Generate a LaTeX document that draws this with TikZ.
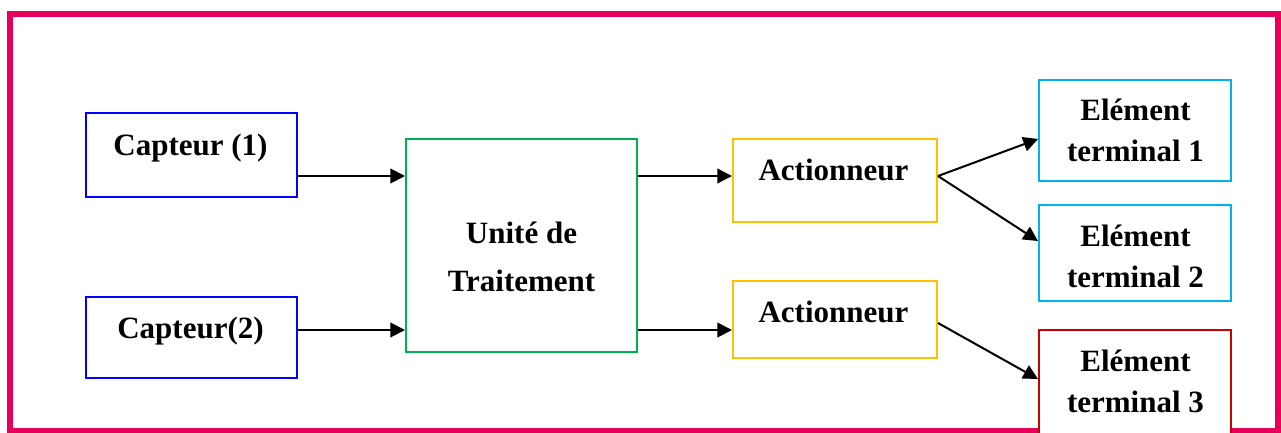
\documentclass[tikz,border=0pt]{standalone}
\usepackage{fontspec}
\setmainfont{Liberation Serif}
\usetikzlibrary{arrows.meta}
\definecolor{bordpink}{RGB}{230,0,92}
\definecolor{cbblue}{RGB}{0,0,255}
\definecolor{utgreen}{RGB}{0,176,80}
\definecolor{acgold}{RGB}{255,192,0}
\definecolor{etcyan}{RGB}{0,176,240}
\definecolor{etred}{RGB}{200,0,0}
\tikzset{
  box/.style={draw=#1, rectangle, line width=1.5pt, fill=white, inner sep=0pt},
  lbl/.style={anchor=base, align=center, inner sep=0pt, font=\fontsize{23.25}{30.5}\selectfont\bfseries},
  arr/.style={line width=1.5pt, -{Triangle[length=11pt,width=11pt]}}
}
\begin{document}
\begin{tikzpicture}[x=0.75pt,y=-0.75pt]
\useasboundingbox (0,0) rectangle (1281,432);
\begin{scope}
\clip (0,0) rectangle (1281,432);
\draw[bordpink, line width=4.5pt] (10,13.5) rectangle (1277.5,431);
% boxes
\node[box=cbblue, minimum width=158.25pt, minimum height=63pt] (c1) at (191.5,155) {};
\node[box=cbblue, minimum width=158.25pt, minimum height=60.75pt] (c2) at (191.5,337.5) {};
\node[box=utgreen, minimum width=173.25pt, minimum height=159.75pt] (ut) at (521.5,245.5) {};
\node[box=acgold, minimum width=153pt, minimum height=62.25pt] (a1) at (835,180.5) {};
\node[box=acgold, minimum width=153pt, minimum height=57.75pt] (a2) at (835,319.5) {};
\node[box=etcyan, minimum width=144pt, minimum height=75.75pt] (e1) at (1135,130.5) {};
\node[box=etcyan, minimum width=144pt, minimum height=72pt] (e2) at (1135,253) {};
\node[box=etred, minimum width=144pt, minimum height=87pt] (e3) at (1135,388) {};
\end{scope}
% labels
\node[lbl] (c1t) at (190.5,155) {Capteur (1)};
\node[lbl] (c2t) at (190.5,338) {Capteur(2)};
\node[lbl, font=\fontsize{23.25}{36}\selectfont\bfseries] (utt) at (521.5,291) {Unité de\\Traitement};
\node[lbl] (a1t) at (833.5,180) {Actionneur};
\node[lbl] (a2t) at (833.5,322) {Actionneur};
\node[lbl] (e1t) at (1135.5,161) {Elément\\terminal 1};
\node[lbl] (e2t) at (1135.5,287) {Elément\\terminal 2};
\node[lbl] (e3t) at (1135.5,412) {Elément\\terminal 3};
% connectors
\draw[arr] (c1.east |- 0,176) -- (ut.west |- 0,176);
\draw[arr] (c2.east |- 0,330) -- (ut.west |- 0,330);
\draw[arr] (ut.east |- 0,176) -- (a1.west |- 0,176);
\draw[arr] (ut.east |- 0,330) -- (a2.west |- 0,330);
\coordinate (f1) at (a1.east |- 0,176);
\draw[arr] (f1) -- (e1.west |- 0,139);
\draw[arr] (f1) -- (e2.west |- 0,241);
\draw[arr] (a2.east |- 0,323) -- (e3.west |- 0,379);
\end{tikzpicture}
\end{document}
